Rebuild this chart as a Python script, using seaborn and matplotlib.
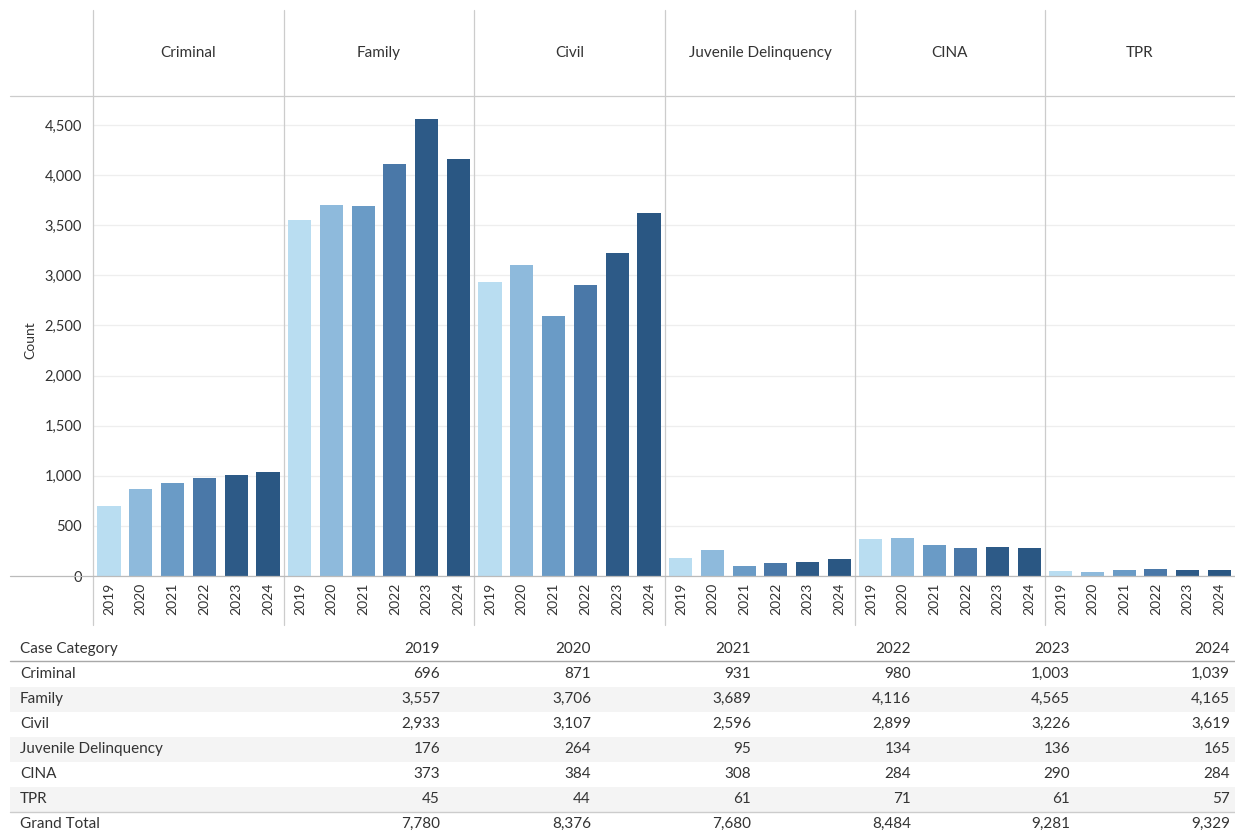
import numpy as np
import pandas as pd
import matplotlib
matplotlib.use("Agg")
import matplotlib.pyplot as plt
import seaborn as sns
from matplotlib.lines import Line2D
from matplotlib.patches import Rectangle
from matplotlib.ticker import FuncFormatter

# ---------------- data ----------------
categories = ["Criminal", "Family", "Civil", "Juvenile Delinquency", "CINA", "TPR"]
years = ["2019", "2020", "2021", "2022", "2023", "2024"]
criminal = [696, 871, 931, 980, 1003, 1039]
family = [3557, 3706, 3689, 4116, 4565, 4165]
civil = [2933, 3107, 2596, 2899, 3226, 3619]
juvenile = [176, 264, 95, 134, 136, 165]
cina = [373, 384, 308, 284, 290, 284]
tpr = [45, 44, 61, 71, 61, 57]
y_ticks = [0, 500, 1000, 1500, 2000, 2500, 3000, 3500, 4000, 4500]
table_header = "Case Category"
total_label = "Grand Total"
y_label = "Count"

series = [criminal, family, civil, juvenile, cina, tpr]
df = pd.DataFrame(
    [(c, y, v) for c, vals in zip(categories, series) for y, v in zip(years, vals)],
    columns=["Category", "Year", "Count"],
)
totals = df.groupby("Year")["Count"].sum().reindex(years)

# ---------------- style ----------------
sns.set_theme(style="white")
plt.rcParams["font.family"] = ["Lato", "DejaVu Sans"]
TXT = "#333333"
colors = ["#b9ddf1", "#8ebadc", "#6a9bc6", "#4a78a8", "#2d5a87", "#2a5783"]
palette = dict(zip(years, colors))

W, H = 1235, 834
fig = plt.figure(figsize=(W / 100, H / 100), dpi=100)
fig.patch.set_facecolor("white")

def fx(px):
    return px / W

def fy(py):
    return 1 - py / H

edges = [93, 284, 474, 665, 855, 1045, 1235]
plot_top, plot_bot = 96, 576

for i, cat in enumerate(categories):
    x0, x1 = edges[i], edges[i + 1]
    ax = fig.add_axes([fx(x0), fy(plot_bot), (x1 - x0) / W, (plot_bot - plot_top) / H])
    sub = df[df["Category"] == cat]
    sns.barplot(data=sub, x="Year", y="Count", hue="Year", order=years, hue_order=years,
                palette=palette, legend=False, width=0.73, saturation=1, linewidth=0, ax=ax)
    ax.set_xlim(-0.5, 5.5)
    ax.set_ylim(0, 4790)
    ax.set_yticks(y_ticks)
    ax.yaxis.grid(True, color="#eeeeee", lw=0.9)
    ax.set_axisbelow(True)
    for s in ax.spines.values():
        s.set_visible(False)
    ax.tick_params(axis="both", length=0)
    ax.set_xlabel("")
    ax.set_ylabel("")
    ax.set_xticks(range(len(years)))
    ax.set_xticklabels(years, rotation=90, fontsize=10, color=TXT)
    ax.tick_params(axis="x", pad=5)
    if i == 0:
        ax.yaxis.set_major_formatter(FuncFormatter(lambda v, p: f"{int(v):,}"))
        ax.tick_params(axis="y", pad=8, labelsize=10.5, labelcolor=TXT)
    else:
        ax.set_yticklabels([])
    ax.patch.set_alpha(0)
    fig.text(fx((x0 + x1) / 2), fy(53), cat, ha="center", va="center", fontsize=11, color=TXT)

# divider lines
line_c = "#cccccc"
for x in edges[:-1]:
    fig.add_artist(Line2D([fx(x), fx(x)], [fy(10), fy(625)], color=line_c, lw=0.9))
fig.add_artist(Line2D([fx(10), fx(1235)], [fy(96), fy(96)], color=line_c, lw=0.9))
fig.add_artist(Line2D([fx(10), fx(1235)], [fy(576), fy(576)], color="#bbbbbb", lw=0.9))

fig.text(fx(30), fy(340), y_label, rotation=90, ha="center", va="center", fontsize=10, color=TXT)

# ---------------- table ----------------
col_x = [440, 591, 751, 911, 1070, 1230]
row_y = [674, 699, 724, 749, 774, 799]
head_y, total_y = 649, 824
fs = 11

for j, yy in enumerate(row_y):
    if j % 2 == 1:
        fig.add_artist(Rectangle((fx(10), fy(yy + 12.5)), (1235 - 10) / W, 25 / H,
                                 facecolor="#f4f4f4", edgecolor="none", transform=fig.transFigure, zorder=0))

fig.text(fx(20), fy(head_y), table_header, ha="left", va="center", fontsize=fs, color=TXT)
for yr, cx in zip(years, col_x):
    fig.text(fx(cx), fy(head_y), yr, ha="right", va="center", fontsize=fs, color=TXT)
fig.add_artist(Line2D([fx(10), fx(1235)], [fy(661), fy(661)], color="#a8a8a8", lw=1.0))

for cat, vals, yy in zip(categories, series, row_y):
    fig.text(fx(20), fy(yy), cat, ha="left", va="center", fontsize=fs, color=TXT)
    for v, cx in zip(vals, col_x):
        fig.text(fx(cx), fy(yy), f"{v:,}", ha="right", va="center", fontsize=fs, color=TXT)

fig.add_artist(Line2D([fx(10), fx(1235)], [fy(812), fy(812)], color="#cccccc", lw=1.0))
fig.text(fx(20), fy(total_y), total_label, ha="left", va="center", fontsize=fs, color=TXT)
for yr, cx in zip(years, col_x):
    fig.text(fx(cx), fy(total_y), f"{int(totals[yr]):,}", ha="right", va="center", fontsize=fs, color=TXT)

fig.savefig("out.png", dpi=100, facecolor="white")
